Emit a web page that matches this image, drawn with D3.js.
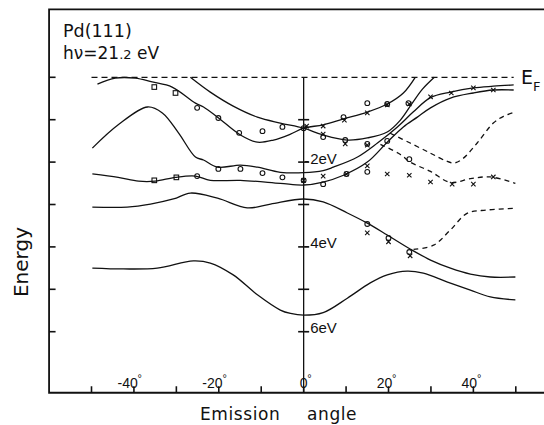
<!DOCTYPE html>
<html lang="en">
<head>
    <meta charset="UTF-8">
    <title>Pd(111) band structure</title>
    <script src="https://d3js.org/d3.v7.min.js"></script>
    <style>
        body {
            margin: 0;
            padding: 0;
            background-color: #fff;
        }

        .band {
            fill: none;
            stroke: #111;
            stroke-width: 1.3px;
        }

        .band.dashed {
            stroke-dasharray: 5 4;
        }

        .frame {
            fill: none;
            stroke: #111;
            stroke-width: 1.8px;
        }

        .tick-mark {
            stroke: #111;
            stroke-width: 1.6px;
        }

        .mark {
            fill: none;
            stroke: #111;
            stroke-width: 1.1px;
        }

        .tick-label {
            font-family: 'Liberation Sans Narrow', 'Liberation Sans', Arial, sans-serif;
            fill: #111;
        }

        .label {
            font-family: 'DejaVu Sans', 'Liberation Sans', sans-serif;
            fill: #111;
        }
    </style>
</head>
<body>
<svg id="chart" width="544" height="425"></svg>

<script>
    // Bands: [emission angle (deg), energy (eV)]
    const band1 = [[-48.6,-0.16],[-44.4,-0.02],[-39.7,-0.02],[-35.7,-0.11],[-31.0,-0.23],[-25.5,-0.61],[-23.6,-0.70],
        [-20.3,-0.94],[-14.9,-1.36],[-10.9,-1.53],[-7.1,-1.48],[-3.1,-1.34],[0,-1.20],[4.6,-1.12],[9.4,-0.98],
        [15.0,-0.82],[19.7,-0.63],[23.5,-0.37],[26.3,0]];
    const band2 = [[-26.7,0],[-22.0,-0.35],[-16.6,-0.68],[-10.9,-0.94],[-5.5,-1.08],[0,-1.20],[4.6,-1.36],[10.3,-1.48],
        [15.0,-1.43],[19.7,-1.29],[22.8,-1.01],[25.6,-0.61],[28.0,-0.28],[30.8,0]];
    const band3 = [[-49.8,-1.67],[-43.7,-1.12],[-36.8,-0.70],[-33.3,-0.84],[-29.5,-1.31],[-25.5,-1.88],[-23.6,-1.95],
        [-20.3,-2.12],[-14.9,-2.07],[-10.9,-2.12],[-5.5,-2.24],[0,-2.25],[4.6,-2.20],[7.0,-2.12],[12.7,-1.88],
        [17.4,-1.55],[22.1,-1.17],[25.8,-0.82],[29.9,-0.48],[34.6,-0.35],[40.0,-0.25],[44.7,-0.21],[49.5,-0.18]];
    const band4 = [[-49.8,-2.28],[-43.7,-2.36],[-38.9,-2.45],[-35.0,-2.45],[-30.2,-2.36],[-25.5,-2.33],[-22.0,-2.43],
        [-14.9,-2.43],[-5.5,-2.50],[0,-2.54],[4.6,-2.47],[9.4,-2.31],[15.0,-2.00],[19.7,-1.53],[23.5,-1.17],
        [26.8,-0.94],[29.9,-0.72],[34.6,-0.49],[40.0,-0.37],[44.7,-0.30],[49.5,-0.30]];
    const band5 = [[-49.8,-3.06],[-41.6,-3.06],[-36.1,-2.99],[-30.7,-2.87],[-26.7,-2.73],[-20.3,-2.85],[-13.3,-3.08],
        [-7.8,-2.99],[0,-2.87],[4.6,-2.94],[10.3,-3.20],[15.0,-3.44],[19.7,-3.72],[25.1,-4.05],[29.9,-4.31],
        [34.6,-4.50],[39.3,-4.64],[44.0,-4.71],[49.9,-4.71]];
    const band6 = [[-49.8,-4.50],[-42.5,-4.52],[-34.5,-4.50],[-26.0,-4.33],[-22.0,-4.38],[-16.6,-4.66],[-10.9,-5.13],
        [-5.5,-5.49],[-3.1,-5.57],[0,-5.61],[4.6,-5.55],[10.3,-5.21],[15.7,-4.85],[19.7,-4.66],[24.4,-4.57],
        [28.2,-4.62],[33.9,-4.83],[39.3,-5.02],[44.0,-5.18],[49.9,-5.25]];

    // dashed bands
    const dash1 = [[20.4,-1.32],[25.1,-1.55],[29.9,-1.79],[33.5,-1.97],[35.5,-2.02],[37.5,-1.92],[40.9,-1.55],
        [44.7,-1.08],[47.1,-0.92],[49.9,-0.82]];
    const dash2 = [[18.1,-1.58],[22.8,-1.82],[25.1,-2.00],[29.9,-2.22],[34.6,-2.48],[39.3,-2.39],[44.0,-2.35],[49.9,-2.50]];
    const dash3 = [[25.9,-4.06],[30.6,-3.96],[34.6,-3.60],[38.5,-3.21],[43.2,-3.13],[49.9,-3.09]];

    // measured points
    const circles = [[-25.1,-0.72],[-20.1,-0.96],[-15.2,-1.31],[-9.7,-1.27],[-5.0,-1.17],[0,-1.20],[9.4,-0.94],
        [15.0,-0.61],[19.7,-0.63],[24.7,-0.61],[-25.1,-2.33],[-20.1,-2.16],[-14.9,-2.16],[-9.7,-2.26],[-5.0,-2.36],
        [4.6,-1.41],[9.8,-1.48],[15.0,-1.57],[19.7,-1.50],[24.9,-1.93],[0,-2.43],[4.6,-2.52],[10.1,-2.28],
        [15.0,-2.23],[15.0,-3.46],[20.0,-3.79],[24.9,-4.12]];
    const crosses = [[0.7,-1.15],[4.6,-1.15],[9.6,-1.01],[15.0,-0.84],[19.7,-0.65],[24.9,-0.63],[29.9,-0.46],
        [34.8,-0.37],[40.0,-0.25],[44.7,-0.30],[4.6,-1.34],[9.8,-1.57],[15.0,-1.60],[0,-2.43],[4.6,-2.33],
        [10.1,-2.28],[15.0,-2.09],[19.7,-2.28],[24.9,-2.31],[29.9,-2.47],[35.0,-2.52],[40.0,-2.52],[44.7,-2.35],
        [15.0,-3.67],[20.0,-3.88],[25.1,-4.21]];
    const squares = [[-35.2,-0.23],[-30.2,-0.37],[-35.2,-2.43],[-30.0,-2.36]];

    // ticks
    const angleTicks = [-50,-40,-30,-20,-10,0,10,20,30,40,50];
    const angleLabels = [-40,-20,0,20,40];
    const energyTicks = [0,-1,-2,-3,-4,-5,-6];
    const centreTicks = [-1,-2,-3,-4,-5,-6];
    const centreLabels = [-2,-4,-6];

    const svg = d3.select('#chart');

    // scales: -50..50 deg and 0..-6 eV as measured on the figure
    const x = d3.scaleLinear().domain([-50, 50]).range([91.5, 515.8]);
    const y = d3.scaleLinear().domain([0, -6]).range([77.3, 331.7]);

    // frame extents (open on the right)
    const aMin = -60, aMax = 58.5, eTop = 1.6, eBottom = -7.44;

    svg.append('path')
        .attr('class', 'frame')
        .attr('d', `M${x(aMax)},${y(eTop)}H${x(aMin)}V${y(eBottom)}H${x(aMax)}`);

    // bottom ticks point up, labels sit inside the frame
    svg.selectAll('.angle-tick')
        .data(angleTicks)
        .enter().append('line')
        .attr('class', 'tick-mark')
        .attr('x1', d => x(d)).attr('x2', d => x(d))
        .attr('y1', y(eBottom)).attr('y2', y(eBottom) - 6.5);

    const al = svg.selectAll('.angle-label')
        .data(angleLabels)
        .enter().append('text')
        .attr('class', 'tick-label')
        .attr('font-size', 14)
        .attr('text-anchor', 'end')
        .attr('x', d => x(d) + 3.8)
        .attr('y', y(eBottom) - 5);
    al.text(d => `${d}`);
    svg.selectAll('.angle-deg')
        .data(angleLabels)
        .enter().append('text')
        .attr('class', 'tick-label')
        .attr('font-size', 11)
        .attr('x', d => x(d) + 3.6)
        .attr('y', y(eBottom) - 11)
        .text('°');

    // left energy ticks, pointing inward
    svg.selectAll('.energy-tick')
        .data(energyTicks)
        .enter().append('line')
        .attr('class', 'tick-mark')
        .attr('x1', x(aMin)).attr('x2', x(aMin) + 6.5)
        .attr('y1', d => y(d)).attr('y2', d => y(d));

    // centre axis at normal emission
    svg.append('line')
        .attr('class', 'frame')
        .style('stroke-width', '1.3px')
        .attr('x1', x(0)).attr('x2', x(0))
        .attr('y1', y(0)).attr('y2', y(eBottom));

    svg.selectAll('.centre-tick')
        .data(centreTicks)
        .enter().append('line')
        .attr('class', 'tick-mark')
        .attr('x1', x(0) - 5.5).attr('x2', x(0) + 5.5)
        .attr('y1', d => y(d)).attr('y2', d => y(d));

    // the tick doubles as the minus sign, as in the original
    const cl = svg.selectAll('.centre-label')
        .data(centreLabels)
        .enter().append('text')
        .attr('class', 'tick-label')
        .attr('font-size', 15)
        .attr('x', x(0) + 0.5)
        .attr('y', d => y(d) + 4.3);
    cl.append('tspan').text('-');
    cl.append('tspan').attr('dx', 1).attr('dy', -2.8).text(d => `${Math.abs(d)}eV`);

    // Fermi level
    svg.append('line')
        .attr('class', 'band dashed')
        .style('stroke-dasharray', '6 4')
        .attr('x1', x(-50)).attr('x2', x(49.5))
        .attr('y1', y(0)).attr('y2', y(0));

    // bands
    const line = d3.line()
        .x(d => x(d[0]))
        .y(d => y(d[1]))
        .curve(d3.curveCatmullRom.alpha(0.5));

    [band1, band2, band3, band4, band5, band6].forEach(b => {
        svg.append('path').datum(b).attr('class', 'band').attr('d', line);
    });
    [dash1, dash2, dash3].forEach(b => {
        svg.append('path').datum(b).attr('class', 'band dashed').attr('d', line);
    });

    // markers
    svg.selectAll('.circle')
        .data(circles)
        .enter().append('circle')
        .attr('class', 'mark')
        .attr('cx', d => x(d[0]))
        .attr('cy', d => y(d[1]))
        .attr('r', 2.4);

    svg.selectAll('.cross')
        .data(crosses)
        .enter().append('path')
        .attr('class', 'mark')
        .attr('d', d => {
            const cx = x(d[0]), cy = y(d[1]), s = 2.2;
            return `M${cx - s},${cy - s}L${cx + s},${cy + s}M${cx - s},${cy + s}L${cx + s},${cy - s}`;
        });

    svg.selectAll('.square')
        .data(squares)
        .enter().append('rect')
        .attr('class', 'mark')
        .attr('x', d => x(d[0]) - 2.3)
        .attr('y', d => y(d[1]) - 2.3)
        .attr('width', 4.6)
        .attr('height', 4.6);

    // texts
    svg.append('text')
        .attr('class', 'label')
        .attr('x', 63).attr('y', 36.5)
        .attr('font-size', 17.5)
        .text('Pd(111)');

    const hv = svg.append('text')
        .attr('class', 'label')
        .attr('x', 63).attr('y', 59)
        .attr('font-size', 17);
    hv.append('tspan').text('hν=21');
    hv.append('tspan').attr('font-size', 13).text('.2');
    hv.append('tspan').text(' eV');

    const ef = svg.append('text')
        .attr('class', 'label')
        .attr('x', 521).attr('y', y(0) + 7)
        .attr('font-size', 19)
        .text('E');
    ef.append('tspan').attr('font-size', 13).attr('dy', 7).text('F');

    svg.append('text')
        .attr('class', 'label')
        .attr('font-size', 20)
        .attr('text-anchor', 'middle')
        .attr('transform', 'translate(28,262) rotate(-90)')
        .text('Energy');

    const xl = svg.append('text')
        .attr('class', 'label')
        .attr('font-size', 17)
        .attr('letter-spacing', 0.6)
        .attr('y', 420);
    xl.append('tspan').attr('x', 200).text('Emission');
    xl.append('tspan').attr('x', 307).text('angle');
</script>
</body>
</html>
